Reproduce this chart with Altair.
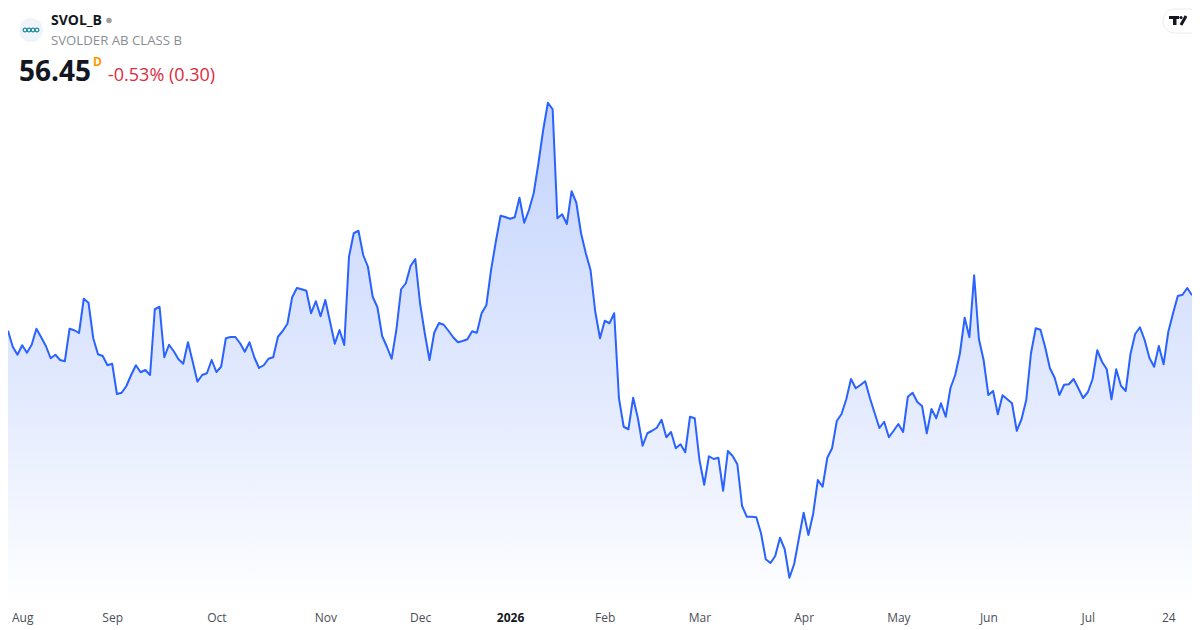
import json
import altair as alt
import pandas as pd

prices = [
55.03,54.39,54.07,54.45,54.15,54.47,55.11,54.77,54.42,53.93,54.07,53.86,53.81,55.11,55.05,54.94,56.31,56.15,54.73,54.09,54.02,53.65,53.71,52.50,52.55,52.82,53.26,53.65,53.37,53.46,53.26,55.89,55.99,53.97,54.47,54.21,53.89,53.71,54.57,53.79,52.99,53.26,53.33,53.86,53.38,53.59,54.73,54.78,54.78,54.53,54.19,54.57,53.97,53.54,53.65,53.91,53.97,54.79,55.02,55.31,56.37,56.74,56.69,
56.63,55.73,56.21,55.61,56.26,55.39,54.51,55.06,54.46,57.99,58.93,59.03,58.06,57.59,56.39,55.97,54.82,54.39,53.91,55.06,56.69,56.93,57.62,57.90,56.13,54.93,53.86,54.95,55.34,55.27,55.03,54.77,54.57,54.62,54.69,55.01,54.95,55.73,56.05,57.46,58.59,59.63,59.58,59.51,59.57,60.35,59.35,59.86,60.53,61.73,63.06,64.15,63.89,59.53,59.69,59.30,60.61,60.15,58.93,58.13,57.46,55.79,54.73,
55.43,55.33,55.73,52.33,51.19,51.09,52.35,51.53,50.43,50.93,51.03,51.15,51.47,50.77,50.98,50.33,50.49,50.17,51.59,51.53,49.86,48.87,50.01,49.90,49.95,48.63,50.22,50.02,49.69,48.02,47.59,47.59,47.57,46.93,45.89,45.74,46.02,46.75,46.29,45.15,45.70,46.73,47.75,46.86,47.70,49.06,48.79,49.95,50.33,51.42,51.70,52.29,53.10,52.73,52.86,53.01,52.33,51.73,51.14,
51.39,50.77,51.03,51.30,50.98,52.39,52.55,52.18,52.02,50.93,51.90,51.53,52.13,51.59,52.74,53.26,54.13,55.55,54.77,57.25,54.70,53.86,52.46,52.62,51.69,52.45,52.29,52.13,51.03,51.49,52.26,54.13,55.13,55.07,54.37,53.53,53.15,52.46,52.87,52.89,53.10,52.73,52.34,52.57,53.09,54.25,53.79,53.49,52.29,53.49,52.83,52.62,54.09,54.90,55.17,54.66,53.95,53.59,54.42,53.69,54.99,55.73,56.42,56.47,56.74,56.45,
]
tick_sessions = [3, 22, 44, 67, 87, 106, 126, 146, 168, 188, 207, 228, 245]
tick_labels = ["Aug", "Sep", "Oct", "Nov", "Dec", "2026", "Feb", "Mar", "Apr", "May", "Jun", "Jul", "24"]

FONT = "Open Sans"
BLUE = "#2962ff"
W, H = 1184, 600

df = pd.DataFrame({"session": range(len(prices)), "price": prices})

x = alt.X(
    "session:Q",
    scale=alt.Scale(domain=[0, len(prices) - 1], nice=False, zero=False),
    axis=alt.Axis(
        title=None, values=tick_sessions, grid=False, domain=False, ticks=False,
        labelPadding=4, labelFont=FONT, labelFontSize=12, labelBound=False, labelOverlap=False,
        labelExpr=f"{json.dumps(tick_labels)}[indexof({json.dumps(tick_sessions)}, datum.value)]",
        labelColor={"condition": {"test": "datum.value == 106", "value": "#131722"}, "value": "#4a4e57"},
        labelFontWeight={"condition": {"test": "datum.value == 106", "value": "bold"}, "value": "normal"},
    ),
)
y = alt.Y(
    "price:Q",
    stack=None,
    scale=alt.Scale(domain=[43.94, 67.94], nice=False, zero=False),
    axis=None,
)

area = alt.Chart(df).mark_area(
    color=alt.Gradient(
        gradient="linear", x1=0, x2=0, y1=0, y2=1,
        stops=[
            alt.GradientStop(color="#c3d3fd", offset=0),
            alt.GradientStop(color="#e4ebfe", offset=0.6),
            alt.GradientStop(color="#ffffff", offset=1),
        ],
    )
).encode(x=x, y=y, y2=alt.value(H))
line = alt.Chart(df).mark_line(color=BLUE, strokeWidth=2, strokeJoin="round").encode(x=x, y=y)


def text(label, px, py, size, color, weight="normal", **kw):
    return (
        alt.Chart(pd.DataFrame({"label": [label]}))
        .mark_text(font=FONT, fontSize=size, color=color, fontWeight=weight, align="left", baseline="alphabetic", **kw)
        .encode(text="label:N", x=alt.value(px - 8), y=alt.value(py - 8))
    )


one = pd.DataFrame({"k": [0]})


def dot(px, py, size, **kw):
    return alt.Chart(one).mark_point(filled=kw.pop("filled", True), size=size, opacity=1, **kw).encode(
        x=alt.value(px - 8), y=alt.value(py - 8)
    )


def box(x1, x2, y1, y2, **kw):
    return alt.Chart(one).mark_rect(**kw).encode(
        x=alt.value(x1 - 8), x2=alt.value(x2 - 8), y=alt.value(y1 - 8), y2=alt.value(y2 - 8)
    )


logo = [dot(31, 30, 576, color="#f0f3fa")]
for cx in (25, 29, 33, 37):
    logo.append(dot(cx, 30, 14, filled=False, color="#1b8a9e", strokeWidth=1.2))

# The tab is pulled left by the 8px the page margin takes from the right edge.
tv = [
    box(1163, 1207, 9, 33, color="#ffffff", stroke="#ececec", strokeWidth=1, cornerRadius=12),
    box(1169, 1179, 16, 19, color="#131722"),
    box(1173, 1176.5, 19, 25, color="#131722"),
    dot(1181, 17.5, 10, color="#131722"),
    alt.Chart(one).mark_rule(color="#131722", strokeWidth=3).encode(
        x=alt.value(1186 - 8), x2=alt.value(1181 - 8), y=alt.value(16 - 8), y2=alt.value(25 - 8)
    ),
]

header = [
    text("SVOL_B", 51, 25, 14, "#131722", "bold"),
    dot(109, 20.5, 30, color="#9c9ea3"),
    text("SVOLDER AB CLASS B", 51, 45, 13.2, "#8a8d93"),
    text("56.45", 19, 81, 28, "#131722", "bold"),
    text("D", 93, 66, 12, "#ff9800", "bold"),
    text("-0.53% (0.30)", 108, 80.5, 18, "#dc2b3e"),
]

chart = (
    alt.layer(area, line, *logo, *header, *tv)
    .properties(
        width=W, height=H, background="#ffffff",
        padding={"left": 0, "top": 0, "right": 0, "bottom": 18},
        autosize=alt.AutoSizeParams(type="none"),
    )
    .configure_view(strokeWidth=0)
)

chart.save("out.html", embed_options={"renderer": "svg", "actions": False})
